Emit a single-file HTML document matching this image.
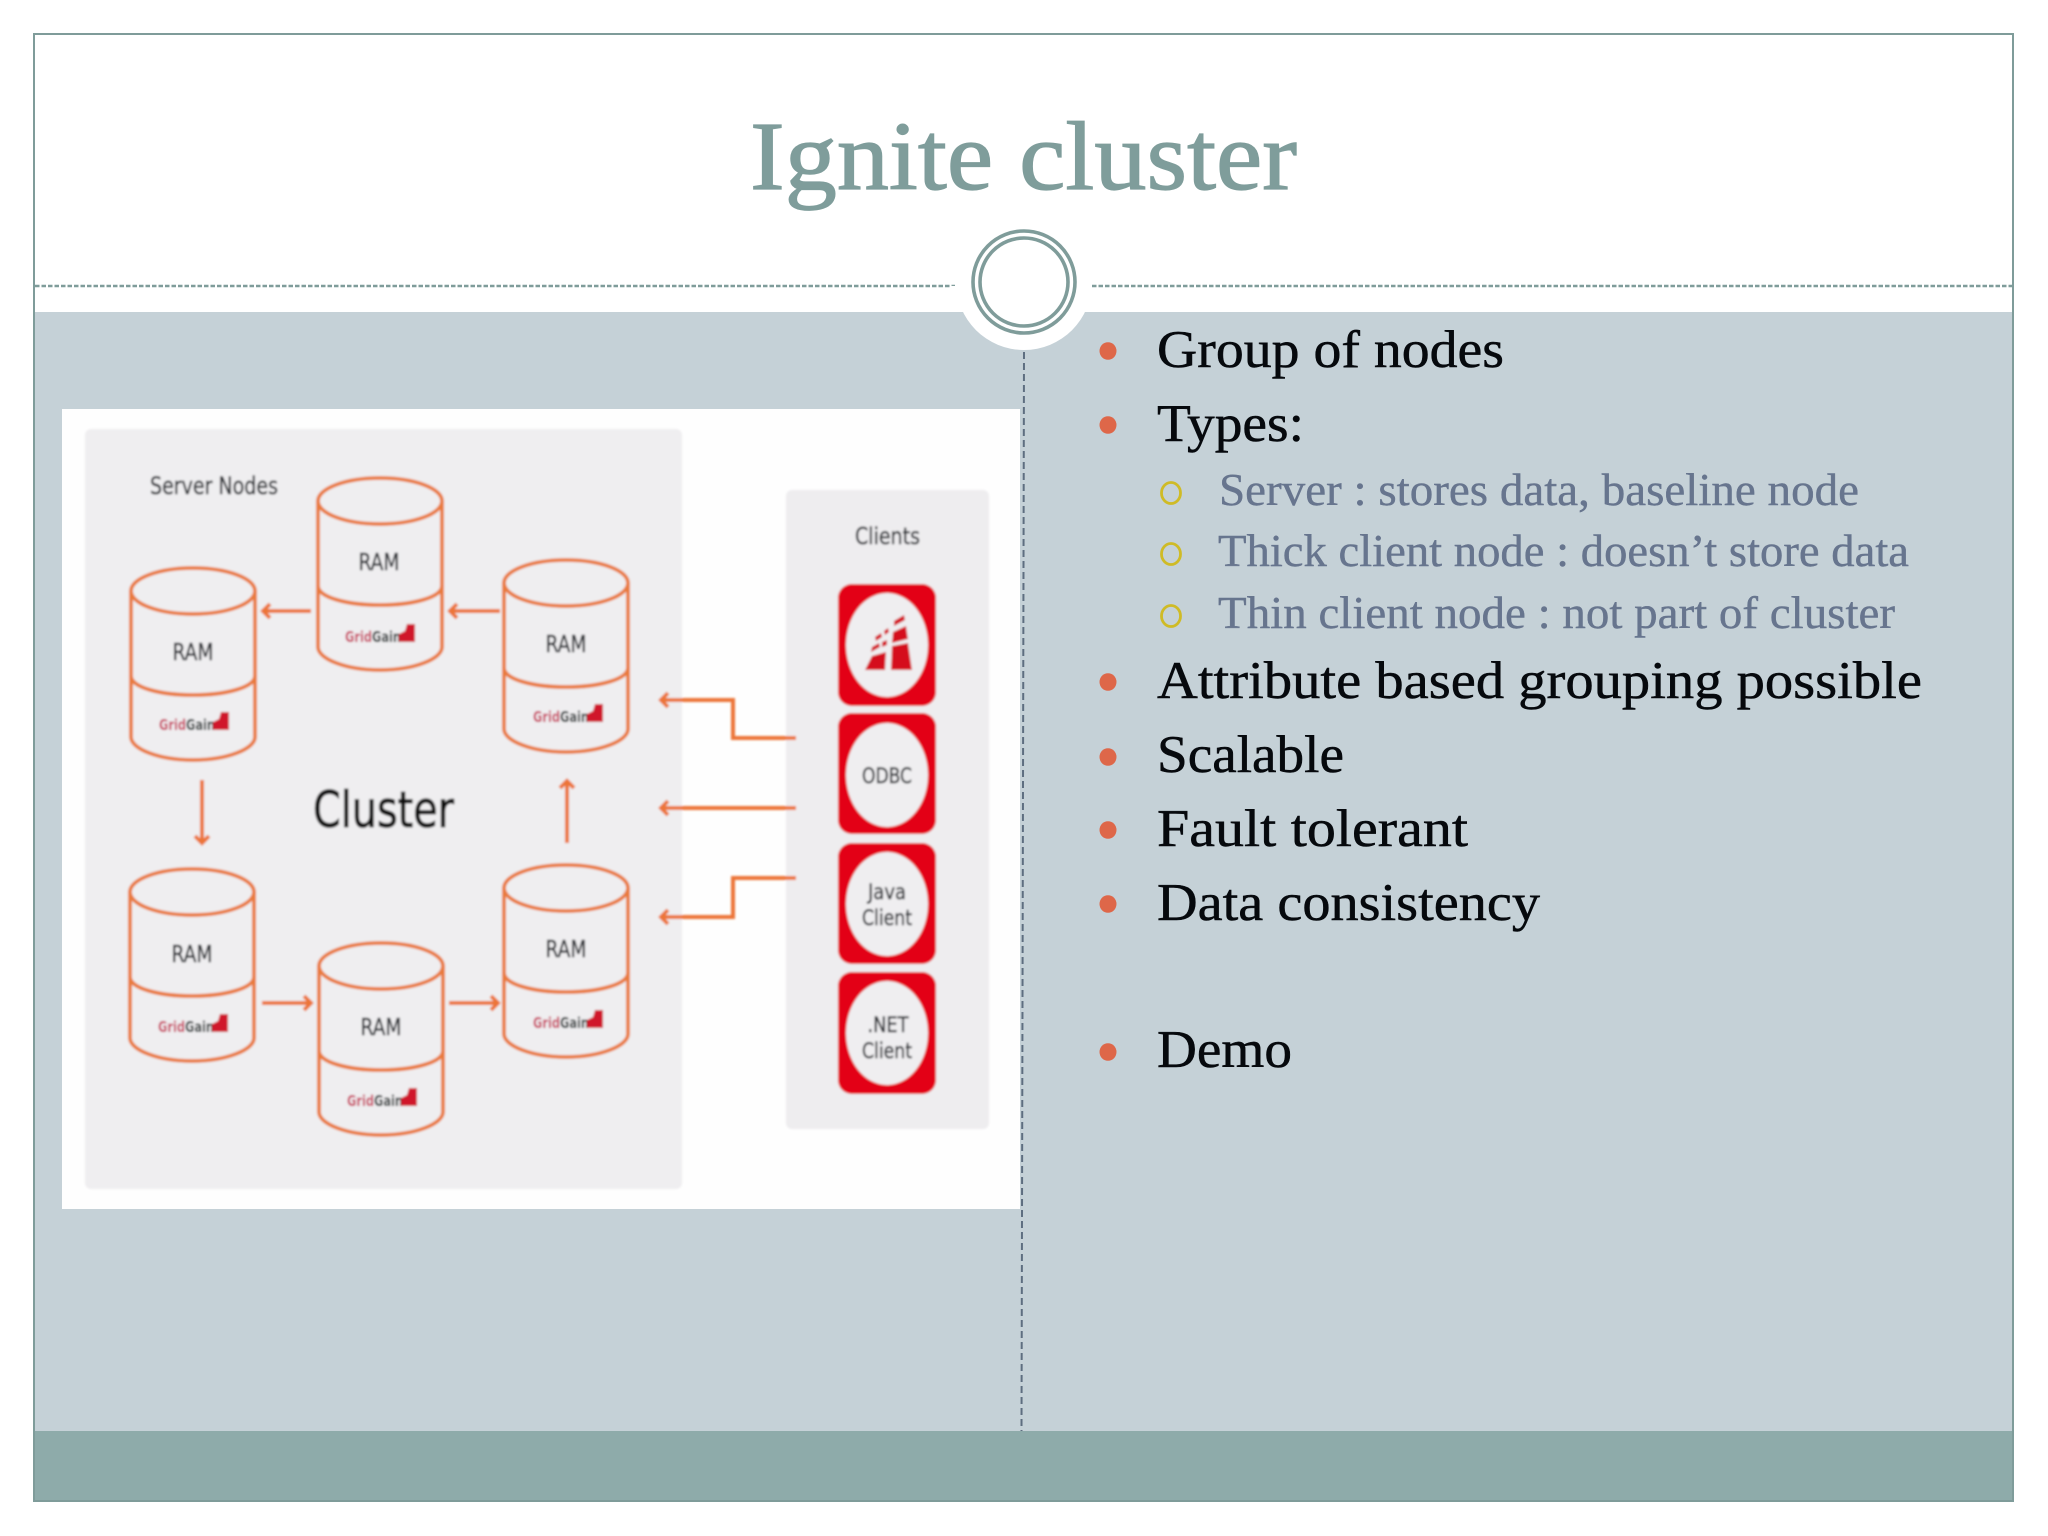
<!DOCTYPE html>
<html><head><meta charset="utf-8"><title>Ignite cluster</title>
<style>html,body{margin:0;padding:0;background:#fff}svg{display:block}
.m{font-family:"Liberation Serif",serif;font-size:53px;fill:#06090d;stroke:#06090d;stroke-width:.5}
.s{font-family:"Liberation Serif",serif;font-size:46px;fill:#67758e;stroke:#67758e;stroke-width:.4}
.d{font-family:"DejaVu Sans",sans-serif;fill:#2c2f34;stroke:#2c2f34;stroke-width:.5}
.c{fill:none;stroke:#E97A3E;stroke-width:3.8}
.a{fill:none;stroke:#EC7538;stroke-width:4}
</style></head><body>
<svg xmlns="http://www.w3.org/2000/svg" width="2048" height="1536" viewBox="0 0 2048 1536">
<defs>
<filter id="b" x="-2%" y="-2%" width="104%" height="104%"><feGaussianBlur stdDeviation="1.1"/></filter>
<g id="cyl" class="c">
  <path d="M0 23V169C0 181 28 192 62 192S124 181 124 169V23"/>
  <ellipse cx="62" cy="23" rx="62" ry="23"/>
  <path d="M0 108C0 119 28 127 62 127S124 119 124 108"/>
</g>
<g id="logoicon"><path d="M-3 18V10L3 7L5 0H13V18Z" fill="#D0182C"/></g>
</defs>
<rect width="2048" height="1536" fill="#fff"/>
<rect x="34" y="312" width="1979" height="1119" fill="#C5D1D7"/>
<rect x="34" y="1431" width="1979" height="70" fill="#8EABAA"/>
<rect x="34" y="34" width="1979" height="1467" fill="none" stroke="#7F9C9A" stroke-width="2"/>
<path d="M35 286H955M1092 286H2012" stroke="#7F9C9A" stroke-width="2.4" stroke-dasharray="4.5 2"/>
<text x="750" y="189" font-family="Liberation Serif,serif" font-size="98" fill="#7F9D9B" stroke="#7F9D9B" stroke-width="1.2" textLength="547" lengthAdjust="spacingAndGlyphs">Ignite cluster</text>
<circle cx="1024" cy="282" r="68" fill="#fff"/>
<rect x="950" y="286" width="140" height="26" fill="#fff"/>
<circle cx="1024" cy="282" r="51" fill="#fff" stroke="#7F9C9A" stroke-width="3.6"/>
<circle cx="1024" cy="282" r="44" fill="#fff" stroke="#7F9C9A" stroke-width="3.6"/>
<path d="M1024 352L1021.5 1431" stroke="#5E6E80" stroke-width="2" stroke-dasharray="7 4"/>

<!-- image -->
<rect x="62" y="409" width="958" height="800" fill="#FEFEFE"/>
<g filter="url(#b)">
<rect x="85" y="429" width="597" height="760" rx="6" fill="#EFEEF0"/>
<rect x="786" y="490" width="203" height="639" rx="6" fill="#EEEDEF"/>
<text class="d" x="150" y="494" font-size="24" textLength="128" lengthAdjust="spacingAndGlyphs">Server Nodes</text>
<text x="313" y="827" font-family="DejaVu Sans,sans-serif" font-size="50" fill="#0c0c0e" stroke="#0c0c0e" stroke-width="1" textLength="141" lengthAdjust="spacingAndGlyphs">Cluster</text>
<text class="d" x="855" y="544" font-size="23" textLength="65" lengthAdjust="spacingAndGlyphs">Clients</text>

<use href="#cyl" x="318" y="478"/><use href="#cyl" x="131" y="568"/><use href="#cyl" x="504" y="560"/>
<use href="#cyl" x="130" y="869"/><use href="#cyl" x="319" y="943"/><use href="#cyl" x="504" y="865"/>

<g class="d" font-size="23" text-anchor="middle">
<text x="379" y="570" textLength="41" lengthAdjust="spacingAndGlyphs">RAM</text>
<text x="193" y="660" textLength="41" lengthAdjust="spacingAndGlyphs">RAM</text>
<text x="566" y="652" textLength="41" lengthAdjust="spacingAndGlyphs">RAM</text>
<text x="192" y="962" textLength="41" lengthAdjust="spacingAndGlyphs">RAM</text>
<text x="381" y="1035" textLength="41" lengthAdjust="spacingAndGlyphs">RAM</text>
<text x="566" y="957" textLength="41" lengthAdjust="spacingAndGlyphs">RAM</text>
</g>
<g font-family="DejaVu Sans,sans-serif" font-size="15" font-weight="bold">
<text x="345" y="642" textLength="56" lengthAdjust="spacingAndGlyphs"><tspan fill="#C8395A">Grid</tspan><tspan fill="#1f2a2a">Gain</tspan></text><use href="#logoicon" x="402" y="624"/>
<text x="159" y="730" textLength="56" lengthAdjust="spacingAndGlyphs"><tspan fill="#C8395A">Grid</tspan><tspan fill="#1f2a2a">Gain</tspan></text><use href="#logoicon" x="216" y="712"/>
<text x="533" y="722" textLength="56" lengthAdjust="spacingAndGlyphs"><tspan fill="#C8395A">Grid</tspan><tspan fill="#1f2a2a">Gain</tspan></text><use href="#logoicon" x="590" y="704"/>
<text x="158" y="1032" textLength="56" lengthAdjust="spacingAndGlyphs"><tspan fill="#C8395A">Grid</tspan><tspan fill="#1f2a2a">Gain</tspan></text><use href="#logoicon" x="215" y="1014"/>
<text x="347" y="1106" textLength="56" lengthAdjust="spacingAndGlyphs"><tspan fill="#C8395A">Grid</tspan><tspan fill="#1f2a2a">Gain</tspan></text><use href="#logoicon" x="404" y="1088"/>
<text x="533" y="1028" textLength="56" lengthAdjust="spacingAndGlyphs"><tspan fill="#C8395A">Grid</tspan><tspan fill="#1f2a2a">Gain</tspan></text><use href="#logoicon" x="590" y="1010"/>
</g>

<g class="a">
<path d="M311 611H264M270 604L263 611L270 618"/>
<path d="M500 611H451M457 604L450 611L457 618"/>
<path d="M202 780V842M195 836L202 843L209 836"/>
<path d="M567 843V782M560 788L567 781L574 788"/>
<path d="M262 1003H310M304 996L311 1003L304 1010"/>
<path d="M449 1003H497M491 996L498 1003L491 1010"/>
<path d="M796 738H733V700H662M668 693L661 700L668 707"/>
<path d="M796 808H662M668 801L661 808L668 815"/>
<path d="M796 878H733V917H662M668 910L661 917L668 924"/>
</g>

<g fill="#E30613">
<rect x="838" y="584" width="98" height="122" rx="14"/>
<rect x="838" y="713" width="98" height="121" rx="14"/>
<rect x="838" y="843" width="98" height="121" rx="14"/>
<rect x="838" y="972" width="98" height="122" rx="14"/>
</g>
<g fill="#EFEEF0">
<ellipse cx="887" cy="645" rx="41" ry="52"/>
<ellipse cx="887" cy="775" rx="41" ry="52"/>
<ellipse cx="887" cy="904" rx="41" ry="52"/>
<ellipse cx="887" cy="1033" rx="41" ry="52"/>
</g>
<g fill="#D5101E">
<path d="M892 646L908 643L912 670L891 670Z"/>
<path d="M872 656L886 652L885 670L865 670Z"/>
<path d="M893 632L906 626L908 639L892 643Z"/>
<path d="M894 621L904 615L905 620L894 626Z"/>
<path d="M875 637L881 633L882 637L876 641ZM884 631L888 628L889 632L885 635Z"/>
<path d="M872 647L879 643L880 647L871 652ZM882 642L887 640L887 645L882 647Z"/>
</g>
<g class="d" font-size="21" text-anchor="middle">
<text x="887" y="783" textLength="50" lengthAdjust="spacingAndGlyphs">ODBC</text>
<text x="887" y="899" textLength="38" lengthAdjust="spacingAndGlyphs">Java</text>
<text x="887" y="925" textLength="50" lengthAdjust="spacingAndGlyphs">Client</text>
<text x="888" y="1032" textLength="41" lengthAdjust="spacingAndGlyphs">.NET</text>
<text x="887" y="1058" textLength="50" lengthAdjust="spacingAndGlyphs">Client</text>
</g>
</g>

<!-- bullets -->
<g fill="#DE6749">
<ellipse cx="1108" cy="351" rx="8.5" ry="8.8"/>
<ellipse cx="1108" cy="425" rx="8.5" ry="8.8"/>
<ellipse cx="1108" cy="682" rx="8.5" ry="8.8"/>
<ellipse cx="1108" cy="757" rx="8.5" ry="8.8"/>
<ellipse cx="1108" cy="830" rx="8.5" ry="8.8"/>
<ellipse cx="1108" cy="904" rx="8.5" ry="8.8"/>
<ellipse cx="1108" cy="1052" rx="8.5" ry="8.8"/>
</g>
<g fill="none" stroke="#CFBB26" stroke-width="2.8">
<ellipse cx="1171" cy="493" rx="9.5" ry="10.5"/>
<ellipse cx="1171" cy="554" rx="9.5" ry="10.5"/>
<ellipse cx="1171" cy="616" rx="9.5" ry="10.5"/>
</g>
<text class="m" x="1157" y="367" textLength="347" lengthAdjust="spacingAndGlyphs">Group of nodes</text>
<text class="m" x="1157" y="441" textLength="147" lengthAdjust="spacingAndGlyphs">Types:</text>
<text class="s" x="1219" y="505" textLength="640" lengthAdjust="spacingAndGlyphs">Server : stores data, baseline node</text>
<text class="s" x="1218" y="566" textLength="691" lengthAdjust="spacingAndGlyphs">Thick client node : doesn’t store data</text>
<text class="s" x="1218" y="628" textLength="677" lengthAdjust="spacingAndGlyphs">Thin client node : not part of cluster</text>
<text class="m" x="1157" y="698" textLength="765" lengthAdjust="spacingAndGlyphs">Attribute based grouping possible</text>
<text class="m" x="1157" y="772" textLength="187" lengthAdjust="spacingAndGlyphs">Scalable</text>
<text class="m" x="1157" y="846" textLength="311" lengthAdjust="spacingAndGlyphs">Fault tolerant</text>
<text class="m" x="1157" y="920" textLength="383" lengthAdjust="spacingAndGlyphs">Data consistency</text>
<text class="m" x="1157" y="1067" textLength="135" lengthAdjust="spacingAndGlyphs">Demo</text>
</svg>
</body></html>
